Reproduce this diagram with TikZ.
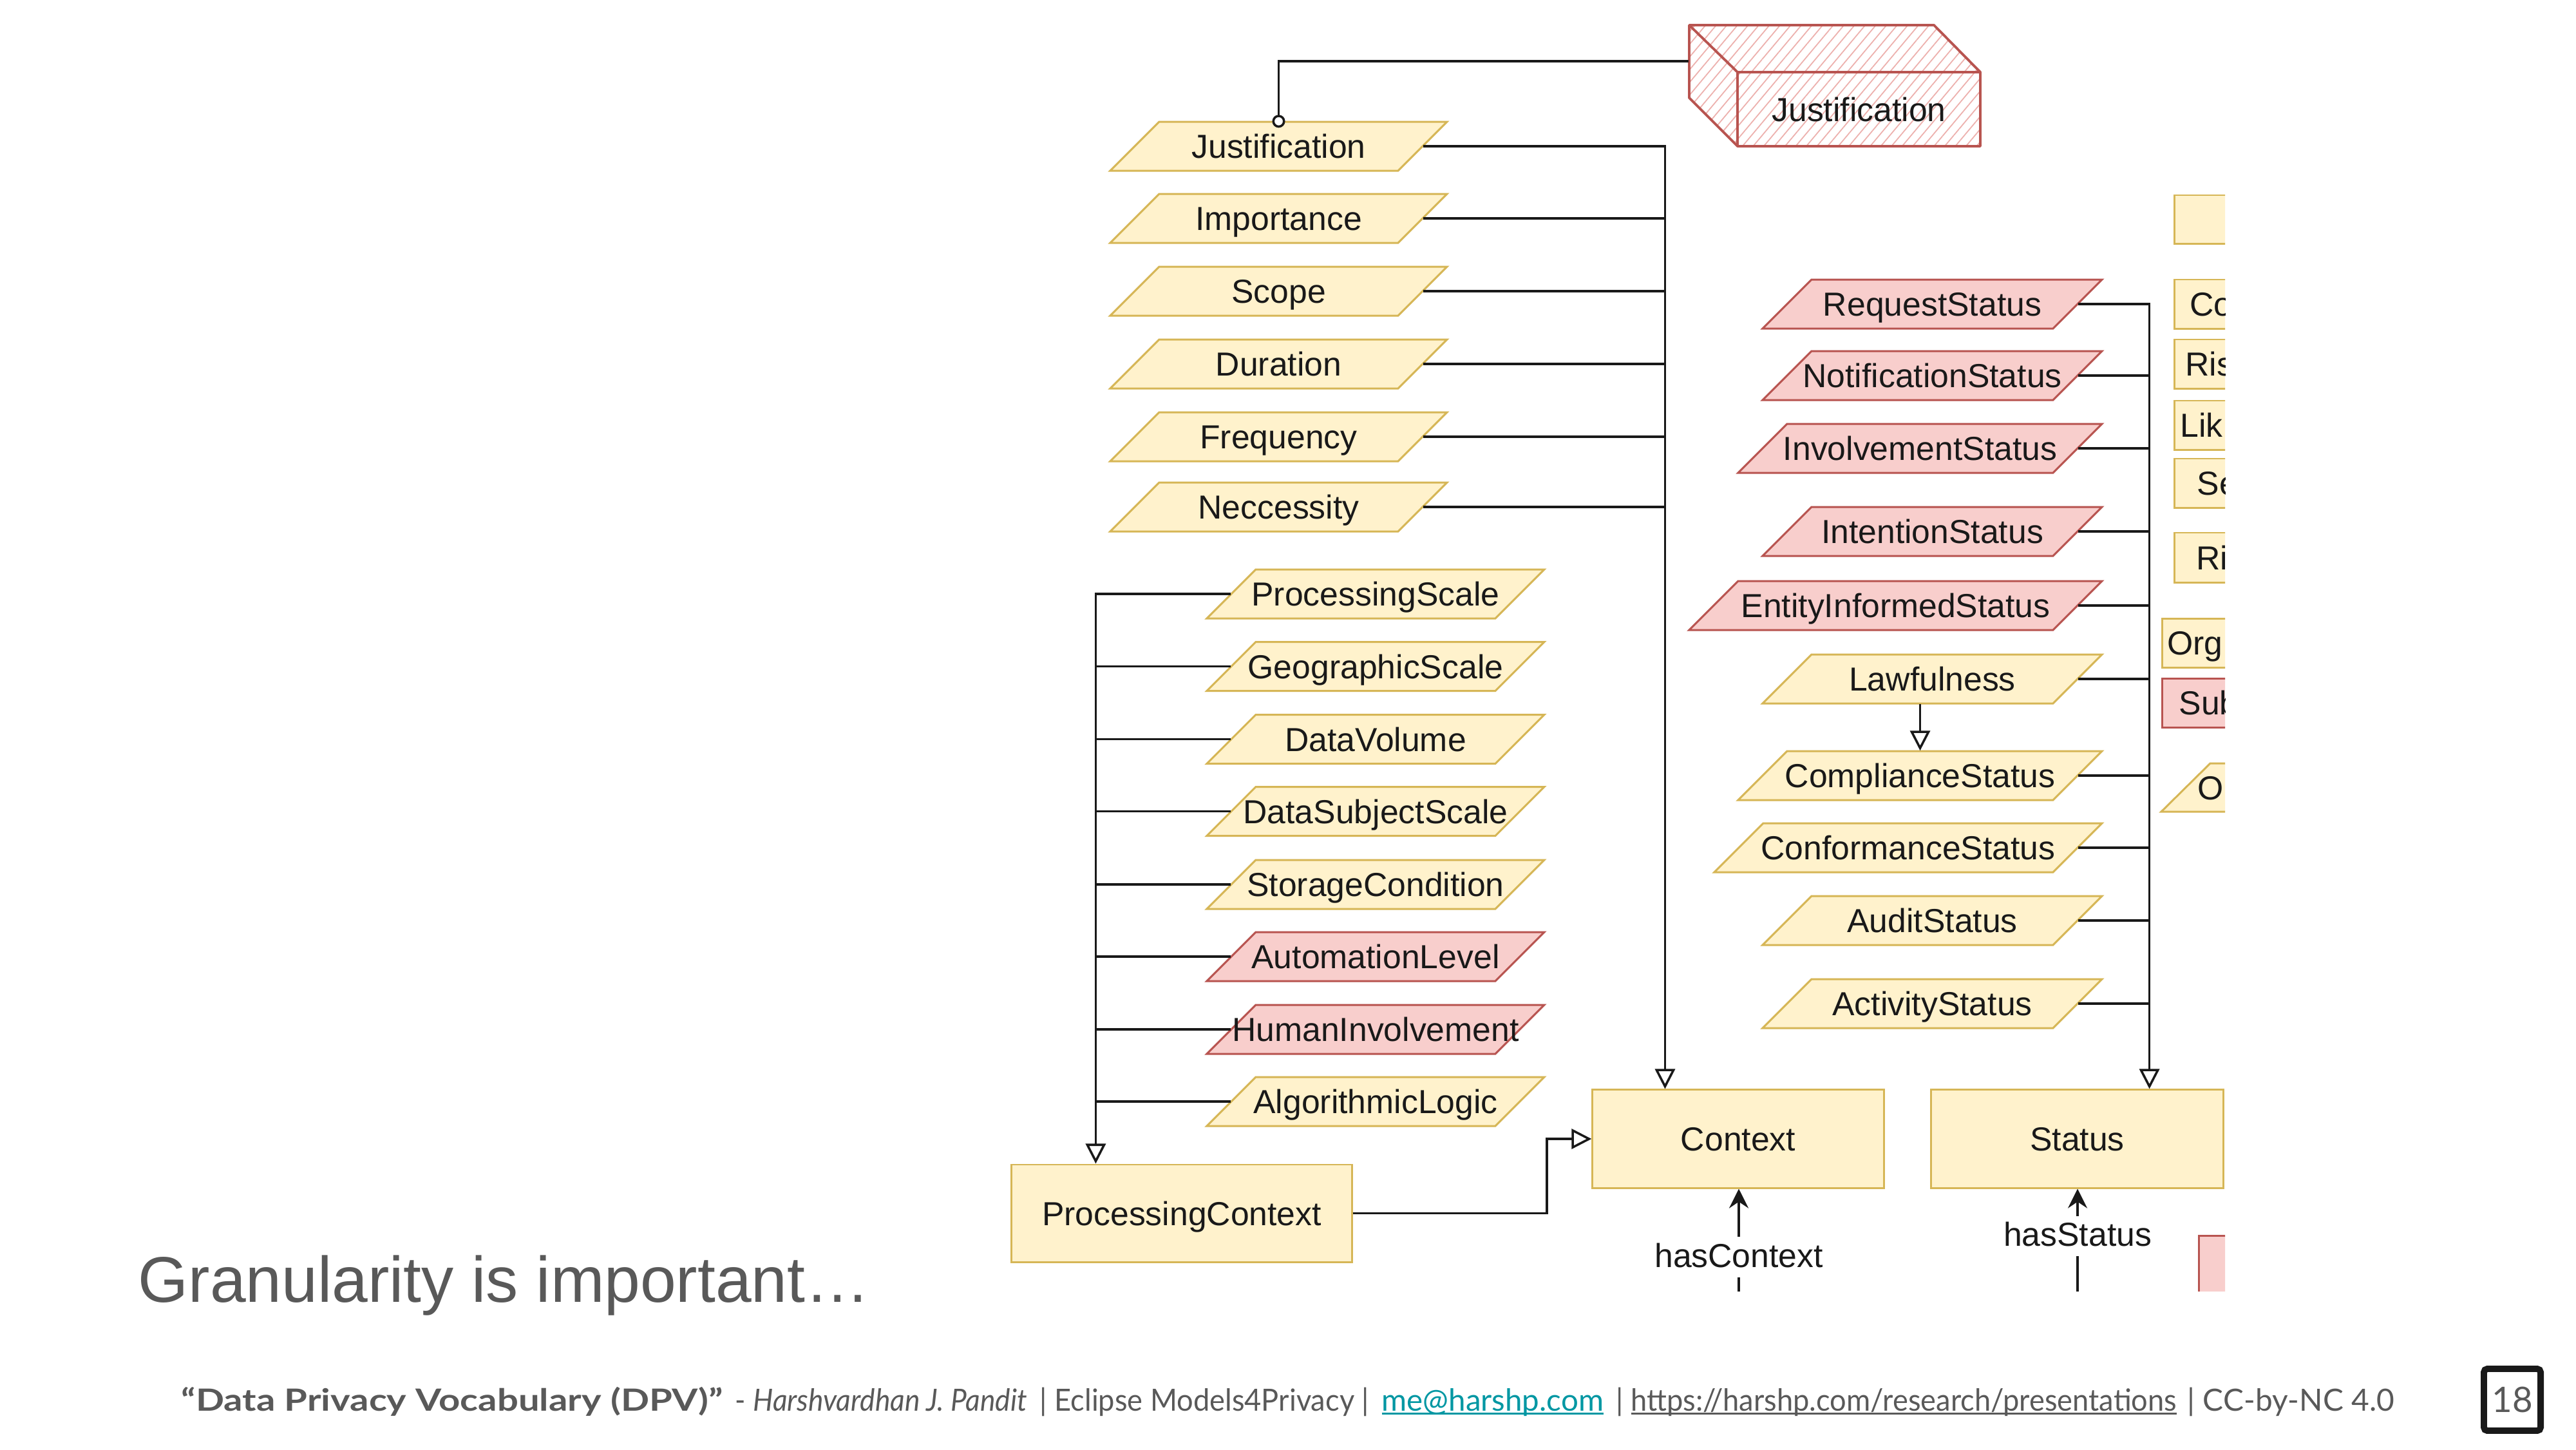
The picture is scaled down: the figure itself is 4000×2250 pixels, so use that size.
\documentclass[tikz,border=0pt]{standalone}
\usepackage{fontspec}
\usepackage{graphicx}
\setmainfont{Liberation Sans}
\newfontfamily\footfont{Lato}
\usetikzlibrary{arrows.meta, calc, patterns.meta}
\definecolor{yfill}{HTML}{FFF2CC}
\definecolor{ydraw}{HTML}{D6B656}
\definecolor{pfill}{HTML}{F8CECC}
\definecolor{pdraw}{HTML}{B85450}
\definecolor{hatch}{HTML}{EDB0AD}
\definecolor{fgray}{HTML}{595959}
\definecolor{mailc}{HTML}{0097A3}
\newcommand\dfont{\fontsize{14.7}{17}\selectfont}
\newcommand\myul[1]{\leavevmode\setbox0=\hbox{#1}\rlap{\rule[-1.6pt]{\wd0}{0.8pt}}\box0\relax}
\tikzset{
 ptext/.style={rectangle, inner sep=0pt, minimum height=0.76cm, text height=0.372cm, text depth=0pt, font=\dfont, text=black!90},
 dbox/.style={rectangle, inner sep=0pt, text height=0.372cm, text depth=0pt, font=\dfont, text=black!90},
 yel/.style={fill=yfill, draw=ydraw, line width=0.85pt},
 pnk/.style={fill=pfill, draw=pdraw, line width=0.85pt},
 conn/.style={draw=black!90, line width=1pt},
 gen/.style={conn, -{Triangle[open, length=0.31cm, width=0.31cm]}},
 hasarr/.style={conn, -{Stealth[length=0.3cm, width=0.3cm, inset=0.1cm]}},
 circarr/.style={conn, -{Circle[fill=white, length=0.2cm]}, shorten >=-0.1cm},
 lbl/.style={inner sep=0pt, text height=0.38cm, text depth=0pt, font=\dfont, text=black!90},
 foot/.style={anchor=base west, inner sep=0pt, text=fgray, font=\footfont\fontsize{13.5}{16}\selectfont},
}
% parallelogram: name, centre, body width (px), colour style, text
\newcommand\dpara[5]{%
  \path[#4] ($(#2)+({-#3/2-38},38)$) -- ($(#2)+({#3/2-38},38)$) -- ($(#2)+({#3/2+38},-38)$) -- ($(#2)+({-#3/2+38},-38)$) -- cycle;
  \node[ptext, minimum width=#3*0.01cm] (#1) at (#2) {#5};}
\begin{document}
\begin{tikzpicture}[x=0.01cm, y=-0.01cm]
\useasboundingbox (0,0) rectangle (4000,2250);
\fill[white] (0,0) rectangle (4000,2250);

\begin{scope}
\clip (1500,0) rectangle (3455,2004);
% 3D Justification box
\path[fill=white] (2623,39) -- (3003,39) -- (3075,112) -- (3075,227) -- (2698,227) -- (2623,152) -- cycle;
\path[pattern={Lines[angle=50,distance=3.6pt,line width=0.5pt]}, pattern color=hatch] (2623,39) -- (3003,39) -- (3075,112) -- (3075,227) -- (2698,227) -- (2623,152) -- cycle;
\draw[pdraw, line width=1.1pt, line join=round] (2623,39) -- (3003,39) -- (3075,112) -- (3075,227) -- (2698,227) -- (2623,152) -- cycle (2623,39) -- (2698,112) -- (3075,112) (2698,112) -- (2698,227);
\node[dbox, minimum width=3.77cm, minimum height=1.15cm] (jbox) at (2886.5,169.5) {Justification};

% context properties
\dpara{just}{1985.5,227}{447}{yel}{Justification}
\dpara{imp}{1985.5,339}{447}{yel}{Importance}
\dpara{scp}{1985.5,452}{447}{yel}{Scope}
\dpara{dur}{1985.5,565}{447}{yel}{Duration}
\dpara{freq}{1985.5,678}{447}{yel}{Frequency}
\dpara{nec}{1985.5,787}{447}{yel}{Neccessity}

% processing context properties
\dpara{ps}{2136,922}{448}{yel}{ProcessingScale}
\dpara{gs}{2136,1034.5}{448}{yel}{GeographicScale}
\dpara{dv}{2136,1147.5}{448}{yel}{DataVolume}
\dpara{dss}{2136,1259.5}{448}{yel}{DataSubjectScale}
\dpara{sc}{2136,1373}{448}{yel}{StorageCondition}
\dpara{al}{2136,1485}{448}{pnk}{AutomationLevel}
\dpara{hi}{2136,1598}{448}{pnk}{HumanInvolvement}
\dpara{alg}{2136,1710}{448}{yel}{AlgorithmicLogic}

% status properties
\dpara{req}{3000.5,472}{451}{pnk}{RequestStatus}
\dpara{noti}{3000.5,583}{451}{pnk}{NotificationStatus}
\dpara{inv}{2981.5,696}{489}{pnk}{InvolvementStatus}
\dpara{intn}{3000.5,825}{451}{pnk}{IntentionStatus}
\dpara{eis}{2943.5,940}{565}{pnk}{EntityInformedStatus}
\dpara{law}{3000.5,1054}{451}{yel}{Lawfulness}
\dpara{comp}{2981.5,1204}{489}{yel}{ComplianceStatus}
\dpara{conf}{2963,1316}{526}{yel}{ConformanceStatus}
\dpara{aud}{3000.5,1429}{451}{yel}{AuditStatus}
\dpara{act}{3000.5,1558}{451}{yel}{ActivityStatus}

% main boxes
\node[dbox, yel, minimum width=4.52cm, minimum height=1.52cm] (ctx) at (2699,1768) {Context};
\node[dbox, yel, minimum width=4.53cm, minimum height=1.52cm] (st) at (3225.5,1768) {Status};
\node[dbox, yel, minimum width=5.28cm, minimum height=1.51cm] (pc) at (1835,1883.5) {ProcessingContext};

% clipped right column
\node[dbox, yel, anchor=west, minimum height=0.75cm, minimum width=3cm] (e0) at (3375,340.5) {};
\node[dbox, yel, anchor=west, minimum height=0.76cm, inner xsep=0.24cm, text width=3cm, align=left] (co) at (3375,472) {Co};
\node[dbox, yel, anchor=west, minimum height=0.76cm, inner xsep=0.17cm, text width=3cm, align=left] (ris) at (3375,565) {Ris};
\node[dbox, yel, anchor=west, minimum height=0.76cm, inner xsep=0.09cm, text width=3cm, align=left] (lik) at (3375,660) {Lik};
\node[dbox, yel, anchor=west, minimum height=0.76cm, inner xsep=0.35cm, text width=3cm, align=left] (se) at (3375,750) {Se};
\node[dbox, yel, anchor=west, minimum height=0.77cm, inner xsep=0.34cm, text width=3cm, align=left] (ri) at (3375,865.5) {Ri};
\node[dbox, yel, anchor=west, minimum height=0.76cm, inner xsep=0.08cm, text width=3cm, align=left] (org) at (3356,998) {Org};
\node[dbox, pnk, anchor=west, minimum height=0.76cm, inner xsep=0.26cm, text width=3cm, align=left] (sub) at (3356,1091) {Sub};
\path[yel] (3356,1260) -- (3700,1260) -- (3776,1185) -- (3432,1185) -- cycle;
\node[dbox, anchor=west] (oo) at (3412,1222.5) {O};
\node[pnk, rectangle, anchor=north west, minimum width=1cm, minimum height=1.5cm] (pk) at (3413,1917) {};

% connectors: context
\coordinate (jL) at ([shift={(-75,-74.5)}]jbox.west);
\draw[circarr] (jL) -| (just.north);
\coordinate (ctxIn) at ([xshift=1.14cm]ctx.north west);
\draw[gen] (just.east) -| (ctxIn);
\foreach \n in {imp,scp,dur,freq,nec} \draw[conn] (\n.east) -- (\n.east -| ctxIn);

% connectors: processing context
\coordinate (pcIn) at ([xshift=1.32cm]pc.north west);
\draw[gen] (ps.west) -| (pcIn);
\foreach \n in {gs,dv,dss,sc,al,hi,alg} \draw[conn] (\n.west) -- (\n.west -| pcIn);
\draw[gen] (pc.east) -- ([xshift=3.01cm]pc.east) |- (ctx.west);

% connectors: status
\coordinate (stIn) at ([xshift=3.40cm]st.north west);
\draw[gen] (req.east) -| (stIn);
\foreach \n in {noti,inv,intn,eis,law,comp,conf,aud,act} \draw[conn] (\n.east) -- (\n.east -| stIn);
\draw[gen] (law.south -| comp.north) -- (comp.north);

% hasContext / hasStatus
\node[lbl] (hc) at (2700,1948) {hasContext};
\coordinate (hcB) at (2700,2015);
\draw[hasarr] ([yshift=0.08cm]hc.north) -- (hc.north |- ctx.south);
\draw[conn] (hcB) -- ([yshift=-0.15cm]hc.south);
\node[lbl] (hs) at (3226,1915.5) {hasStatus};
\coordinate (hsB) at (3226,2015);
\draw[hasarr] ([yshift=0.08cm]hs.north) -- (hs.north |- st.south);
\draw[conn] (hsB) -- ([yshift=-0.15cm]hs.south);
\end{scope}

% slide title
\node[anchor=base west, inner sep=0pt, text=fgray, font=\fontsize{28.5}{34}\selectfont] (title) at (214,2021) {Granularity is important…};

% footer (segments placed as in the slide)
\node[foot] (f1) at (281,2190) {\resizebox{8.40cm}{\height}{\bfseries “Data Privacy Vocabulary (DPV)”}};
\node[foot] (f2) at (1141,2190) {\resizebox{4.53cm}{\height}{- \itshape Harshvardhan J. Pandit}};
\node[foot] (f3) at (1614,2190) {\resizebox{5.11cm}{\height}{| Eclipse Models4Privacy |}};
\node[foot] (f4) at (2145,2190) {\resizebox{3.44cm}{\height}{\color{mailc}\myul{me@harshp.com}}};
\node[foot] (f5) at (2509,2190) {\resizebox{8.70cm}{\height}{| \myul{https://harshp.com/research/presentations}}};
\node[foot] (f6) at (3396,2190) {\resizebox{3.21cm}{\height}{| CC-by-NC 4.0}};

% page number
\node[draw=black!90, line width=2.8pt, rounded corners=1.5pt, minimum width=0.88cm, minimum height=0.96cm, inner sep=0pt, text=fgray, font=\footfont\fontsize{15.5}{17}\selectfont] (pg) at (3901,2173) {18};
\end{tikzpicture}
\end{document}
